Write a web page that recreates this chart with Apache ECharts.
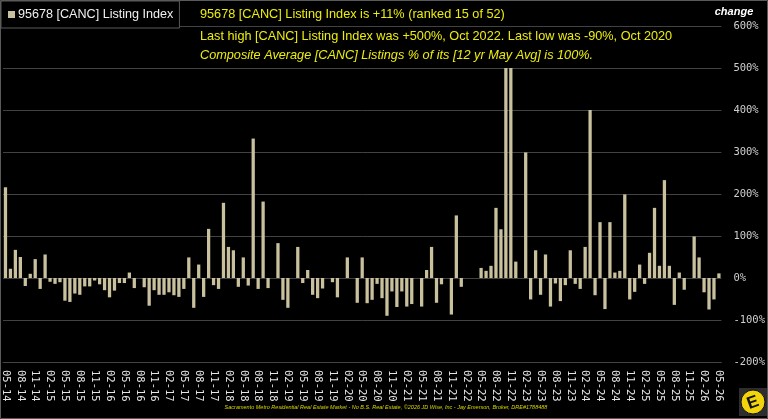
<!DOCTYPE html>
<html>
<head>
<meta charset="utf-8">
<script src="https://cdn.jsdelivr.net/npm/echarts@6/dist/echarts.min.js"></script>
<style>
    html, body {margin: 0; padding: 0; background: #000;}
    #mychart {width: 768px; height: 419px;}
</style>
</head>
<body>
<div id="mychart"></div>
<script>
// monthly listing index change, May 2014 .. May 2026
var startYear = 2014;
var startMonth = 5;
var monthCount = 145;

var seriesName = '95678 [CANC] Listing Index';

var values = [
    216, 22, 67, 50, -19, 10, 45, -26, 56, -9, -14, -10,
    -54, -57, -37, -40, -20, -20, -6, -15, -29, -46, -30, -12,
    -12, 13, -24, 0, -22, -66, -29, -40, -40, -34, -41, -45,
    -26, 49, -71, 32, -45, 117, -17, -26, 179, 74, 66, -21,
    49, -18, 332, -26, 182, -24, 0, 83, -52, -71, 0, 74,
    -12, 19, -40, -48, -25, 0, -10, -46, 0, 49, 0, -59,
    49, -60, -52, -14, -48, -90, -32, -69, -32, -68, -62, 0,
    -68, 19, 74, -59, -15, 0, -87, 149, -21, 0, 0, 0,
    24, 17, 29, 167, 116, 500, 500, 39, 0, 299, -51, 66,
    -40, 56, -68, -13, -55, -17, 66, -14, -26, 74, 400, -41,
    133, -74, 133, 13, 17, 199, -51, -33, 32, -14, 60, 167,
    29, 233, 29, -64, 13, -28, 0, 99, 49, -34, -75, -51,
    11
];

var headLines = [
    '95678 [CANC] Listing Index is +11% (ranked 15 of 52)',
    'Last high [CANC] Listing Index was +500%, Oct 2022. Last low was -90%, Oct 2020',
    'Composite Average [CANC] Listings % of its [12 yr May Avg] is 100%.'
];

var footer = 'Sacramento Metro Residential Real Estate Market - No B.S. Real Estate, \u00a92026 JD Wise, Inc - Jay Emerson, Broker, DRE#1788488';

// category labels mm-yy
var dates = [];
for (var i = 0; i < monthCount; i++) {
    var m = (startMonth - 1 + i) % 12 + 1;
    var y = startYear + Math.floor((startMonth - 1 + i) / 12);
    dates.push((m < 10 ? '0' + m : '' + m) + '-' + String(y).slice(2));
}

var yellow = '#eded0c';
var mono = '"DejaVu Sans Mono", monospace';
var sans = '"Liberation Sans", Arial, sans-serif';

var option = {
    backgroundColor: '#000',
    animation: false,
    title: [
        {text: headLines[0], left: 200, top: 8, padding: 0,
            textStyle: {color: yellow, fontSize: 12.7, fontWeight: 'normal', fontFamily: sans}},
        {text: headLines[1], left: 200, top: 30, padding: 0,
            textStyle: {color: yellow, fontSize: 12.7, fontWeight: 'normal', fontFamily: sans}},
        {text: headLines[2], left: 200, top: 49, padding: 0,
            textStyle: {color: yellow, fontSize: 12.7, fontWeight: 'normal', fontStyle: 'italic', fontFamily: sans}}
    ],
    legend: {
        left: 1,
        top: 1,
        padding: [7, 6, 7, 7],
        itemWidth: 7,
        itemHeight: 7,
        itemGap: 4,
        icon: 'rect',
        backgroundColor: '#000',
        borderColor: '#5a5a5a',
        borderWidth: 1,
        textStyle: {color: '#f0f0f0', fontSize: 12.6, fontFamily: sans, padding: [0, 0, 0, -2]},
        data: [seriesName]
    },
    grid: {
        left: 0,
        right: 43,
        top: 26,
        bottom: 57
    },
    xAxis: {
        type: 'category',
        data: dates,
        axisLine: {onZero: false, lineStyle: {color: '#444'}},
        axisTick: {show: false},
        axisLabel: {
            interval: 2,
            rotate: -90,
            margin: 8,
            color: '#e6e6e6',
            fontSize: 10.5,
            fontFamily: mono
        }
    },
    yAxis: {
        type: 'value',
        position: 'right',
        min: -200,
        max: 600,
        interval: 100,
        axisLine: {show: false},
        axisTick: {show: false},
        splitLine: {lineStyle: {color: '#424242', width: 1}},
        axisLabel: {
            formatter: '{value}%',
            margin: 12,
            color: '#cfcfcf',
            fontSize: 10.5,
            fontFamily: mono
        }
    },
    series: [
        {
            name: seriesName,
            type: 'bar',
            data: values,
            barWidth: '66%',
            itemStyle: {color: '#c9c19d'}
        }
    ],
    graphic: [
        // frame
        {type: 'rect', shape: {x: 0.5, y: 0.5, width: 767, height: 418}, silent: true,
            style: {fill: 'none', stroke: '#5a5a5a', lineWidth: 1}, z: 100},
        {type: 'text', x: 734, y: 12, silent: true,
            style: {text: 'change', fill: '#fff', font: 'italic bold 11px ' + sans, align: 'center', verticalAlign: 'middle'}},
        {type: 'text', x: 386, y: 407, silent: true,
            style: {text: footer, fill: '#d8d800', font: 'italic 5.5px ' + sans, align: 'center', verticalAlign: 'middle'}},
        // logo
        {type: 'rect', shape: {x: 739, y: 388, width: 28, height: 28}, silent: true, style: {fill: '#2e2e2e'}},
        {type: 'circle', shape: {cx: 753, cy: 402, r: 12}, silent: true, style: {fill: '#f2d40c', stroke: '#111', lineWidth: 1}},
        {type: 'text', x: 753, y: 403, rotation: 0.35, silent: true,
            style: {text: 'E', fill: '#111', font: 'bold 17px ' + sans, align: 'center', verticalAlign: 'middle'}}
    ]
};

var mychart = echarts.init(document.getElementById('mychart'));
mychart.setOption(option);
</script>
</body>
</html>
